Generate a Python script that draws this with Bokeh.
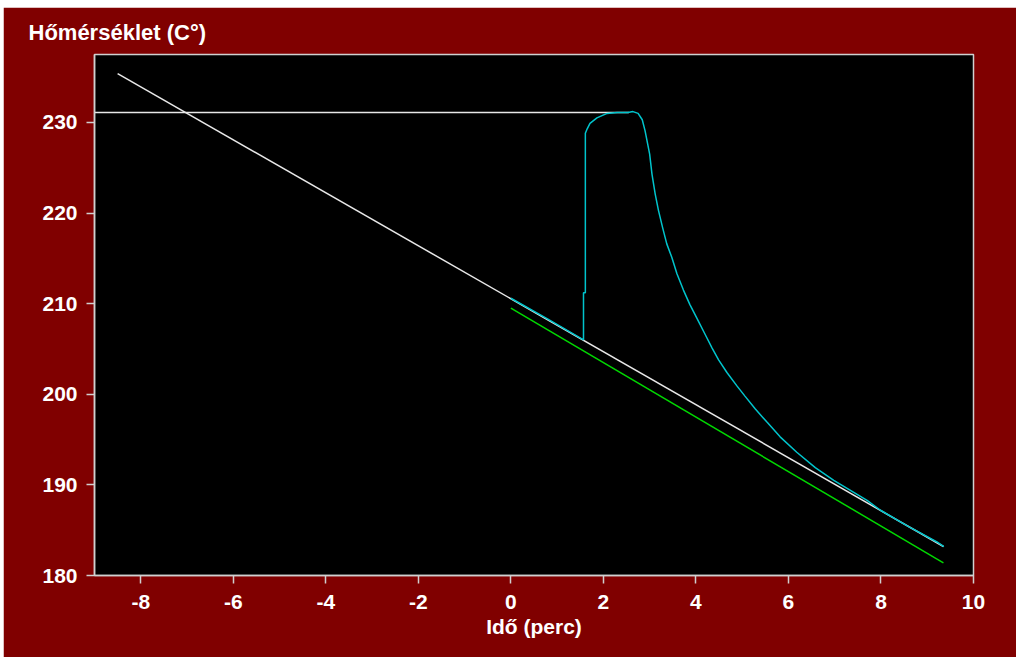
from bokeh.plotting import figure
from bokeh.models import Range1d, FixedTicker
from bokeh.embed import file_html
from bokeh.resources import INLINE

# Time axis (minutes) and temperature (°C) series
ref_x = [-8.5, 9.35]
ref_y = [235.4, 183.2]

peak_x = [-9.0, 2.55]
peak_y = [231.1, 231.1]

green_x = [0.0, 9.35]
green_y = [209.5, 181.4]

cyan_x = [0.0, 0.8, 1.57, 1.57, 1.61, 1.61, 1.65, 1.71, 1.86, 2.08, 2.3, 2.53,
          2.64, 2.75, 2.84, 2.9, 3.0, 3.05, 3.12, 3.19, 3.28, 3.37, 3.48, 3.59,
          3.73, 3.87, 4.02, 4.2, 4.35, 4.49, 4.67, 4.89, 5.06, 5.28, 5.54, 5.82,
          6.18, 6.58, 6.98, 7.34, 7.7, 7.99, 8.56, 9.21, 9.36]
cyan_y = [210.6, 208.3, 206.0, 211.2, 211.2, 228.8, 229.3, 229.9, 230.5, 231.0,
          231.1, 231.1, 231.2, 231.0, 230.3, 229.1, 226.5, 224.3, 222.1, 220.3,
          218.4, 216.6, 215.1, 213.3, 211.5, 209.9, 208.4, 206.6, 205.1, 203.8,
          202.4, 200.9, 199.8, 198.4, 196.9, 195.3, 193.6, 191.9, 190.5, 189.4,
          188.3, 187.2, 185.5, 183.7, 183.2]

x_ticks = [-8, -6, -4, -2, 0, 2, 4, 6, 8, 10]
y_ticks = [180, 190, 200, 210, 220, 230]

BG = "#800000"
FRAME = "#d0d0d0"
FONT = "Liberation Sans"

p = figure(width=1013, height=650, output_backend="svg", toolbar_location=None,
           x_range=Range1d(-9, 10), y_range=Range1d(180, 237.5),
           title="Hőmérséklet (C°)",
           min_border_left=91, min_border_right=43,
           min_border_top=47, min_border_bottom=82,
           margin=(7, 0, 2, 3))

p.background_fill_color = "black"
p.border_fill_color = BG
p.outline_line_color = FRAME
p.outline_line_width = 1.5
p.grid.visible = False

p.title.text_font = FONT
p.title.text_font_style = "bold"
p.title.text_font_size = "22px"
p.title.text_color = "white"
p.title.align = "left"
p.title.offset = -66
p.title.standoff = 19

for ax in (p.xaxis[0], p.yaxis[0]):
    ax.axis_line_color = FRAME
    ax.axis_line_width = 1.5
    ax.major_tick_line_color = FRAME
    ax.major_tick_line_width = 1.5
    ax.major_tick_in = 0
    ax.major_tick_out = 8
    ax.minor_tick_line_color = None
    ax.major_label_text_font = FONT
    ax.major_label_text_font_style = "bold"
    ax.major_label_text_font_size = "21px"
    ax.major_label_text_color = "white"

p.xaxis.ticker = FixedTicker(ticks=x_ticks)
p.yaxis.ticker = FixedTicker(ticks=y_ticks)
# plain hyphen-minus on the time labels
p.xaxis.major_label_overrides = {t: str(t) for t in x_ticks}
p.xaxis.major_label_standoff = 11
p.yaxis.major_label_standoff = 9

p.xaxis.axis_label = "Idő (perc)"
p.xaxis.axis_label_text_font = FONT
p.xaxis.axis_label_text_font_style = "bold"
p.xaxis.axis_label_text_font_size = "21px"
p.xaxis.axis_label_text_color = "white"
p.xaxis.axis_label_standoff = 3

p.line(peak_x, peak_y, line_color="#e8e8e8", line_width=1.5)
p.line(ref_x, ref_y, line_color="#e8e8e8", line_width=1.5)
p.line(green_x, green_y, line_color="#00d800", line_width=1.5)
p.line(cyan_x, cyan_y, line_color="#00c4cc", line_width=1.5)

open("out.html", "w").write(file_html(p, INLINE))
